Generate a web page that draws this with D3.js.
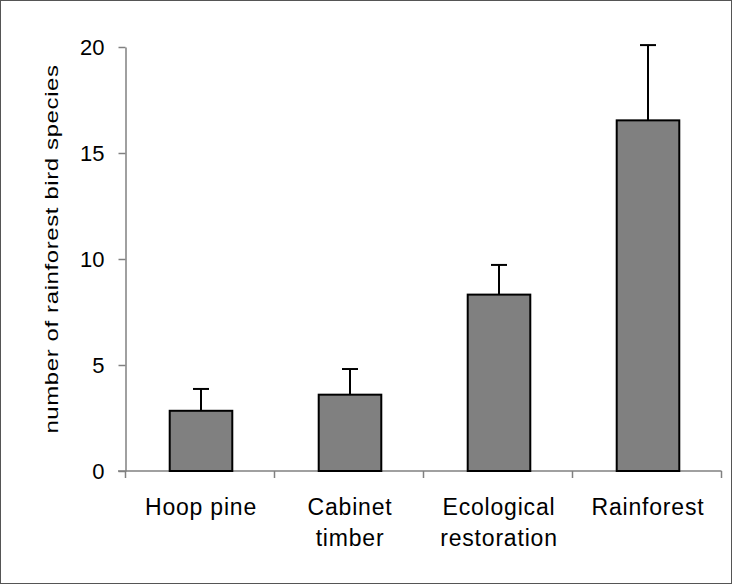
<!DOCTYPE html>
<html>
<head>
<meta charset="utf-8">
<script src="https://cdn.jsdelivr.net/npm/d3@7"></script>
<style>
  body { margin: 0; background: #fff; }
  text { font-family: Arial, "Liberation Sans", sans-serif; fill: #000; }
</style>
</head>
<body>
<div id="chart"></div>
<script>
// data
const categories = [["Hoop pine"], ["Cabinet", "timber"], ["Ecological", "restoration"], ["Rainforest"]];
const means = [2.84, 3.6, 8.32, 16.54];
const errors = [1.03, 1.21, 1.4, 3.55];
const yTicks = [0, 5, 10, 15, 20];

let width = 732, height = 585;

let svg = d3.select("#chart")
    .append("svg")
    .attr("width", width)
    .attr("height", height);

// outer frame
svg.append("rect")
    .attr("x", 0.5).attr("y", 0.5)
    .attr("width", width - 1).attr("height", height - 2)
    .attr("fill", "none")
    .attr("stroke", "#555")
    .attr("stroke-width", 1);

let x = d3.scaleBand()
    .domain(d3.range(categories.length))
    .range([125.5, 721.5]);

let y = d3.scaleLinear()
    .domain([0, 20])
    .range([471, 47]);

// y axis
let yAxis = svg.append("g")
    .attr("transform", "translate(125.5,0)")
    .call(d3.axisLeft(y).tickValues(yTicks).tickSize(7).tickPadding(14).tickSizeOuter(0));
yAxis.select(".domain").attr("stroke", "#808080").attr("stroke-width", 1.5);
yAxis.selectAll(".tick line").attr("stroke", "#808080").attr("stroke-width", 1.5);
yAxis.selectAll(".tick text")
    .style("font-size", "22px")
    .style("font-family", "Arial, 'Liberation Sans', sans-serif")
    .attr("fill", "#000");

// x axis line and boundary ticks
svg.append("line")
    .attr("x1", 118).attr("x2", 721.5)
    .attr("y1", y(0)).attr("y2", y(0))
    .attr("stroke", "#808080").attr("stroke-width", 1.5);

let bounds = d3.range(categories.length + 1).map(i => i < categories.length ? x(i) : x(i - 1) + x.bandwidth());
svg.selectAll(".xtick")
    .data(bounds)
    .enter().append("line")
    .attr("class", "xtick")
    .attr("x1", d => d).attr("x2", d => d)
    .attr("y1", y(0)).attr("y2", y(0) + 7)
    .attr("stroke", "#808080").attr("stroke-width", 1.5);

// bars
let barW = x.bandwidth() * 0.42;
svg.selectAll(".bar")
    .data(means)
    .enter().append("rect")
    .attr("class", "bar")
    .attr("x", (d, i) => x(i) + x.bandwidth() / 2 - barW / 2 + 1)
    .attr("y", d => y(d))
    .attr("width", barW)
    .attr("height", d => y(0) - y(d))
    .attr("fill", "#808080")
    .attr("stroke", "#000")
    .attr("stroke-width", 2);

// error bars (upper only)
let capW = 16;
let errG = svg.selectAll(".err")
    .data(means)
    .enter().append("g")
    .attr("class", "err");
errG.append("line")
    .attr("x1", (d, i) => x(i) + x.bandwidth() / 2 + 1)
    .attr("x2", (d, i) => x(i) + x.bandwidth() / 2 + 1)
    .attr("y1", d => y(d))
    .attr("y2", (d, i) => y(d + errors[i]))
    .attr("stroke", "#000").attr("stroke-width", 2);
errG.append("line")
    .attr("x1", (d, i) => x(i) + x.bandwidth() / 2 + 1 - capW / 2)
    .attr("x2", (d, i) => x(i) + x.bandwidth() / 2 + 1 + capW / 2)
    .attr("y1", (d, i) => y(d + errors[i]))
    .attr("y2", (d, i) => y(d + errors[i]))
    .attr("stroke", "#000").attr("stroke-width", 2);

// category labels
let labels = svg.selectAll(".xlabel")
    .data(categories)
    .enter().append("text")
    .attr("class", "xlabel")
    .attr("text-anchor", "middle")
    .style("font-size", "23px")
    .style("letter-spacing", "0.8px");
labels.selectAll("tspan")
    .data((d, i) => d.map(t => ({t: t, i: i})))
    .enter().append("tspan")
    .attr("x", d => x(d.i) + x.bandwidth() / 2 + 1)
    .attr("y", (d, j) => 515 + j * 31)
    .text(d => d.t);

// y axis title (glyphs are narrow in the original)
svg.append("text")
    .attr("transform", "translate(58," + 249 + ") rotate(-90) scale(1,0.74)")
    .attr("text-anchor", "middle")
    .style("font-size", "24px")
    .style("letter-spacing", "0.6px")
    .text("number of rainforest bird species");
</script>
</body>
</html>
